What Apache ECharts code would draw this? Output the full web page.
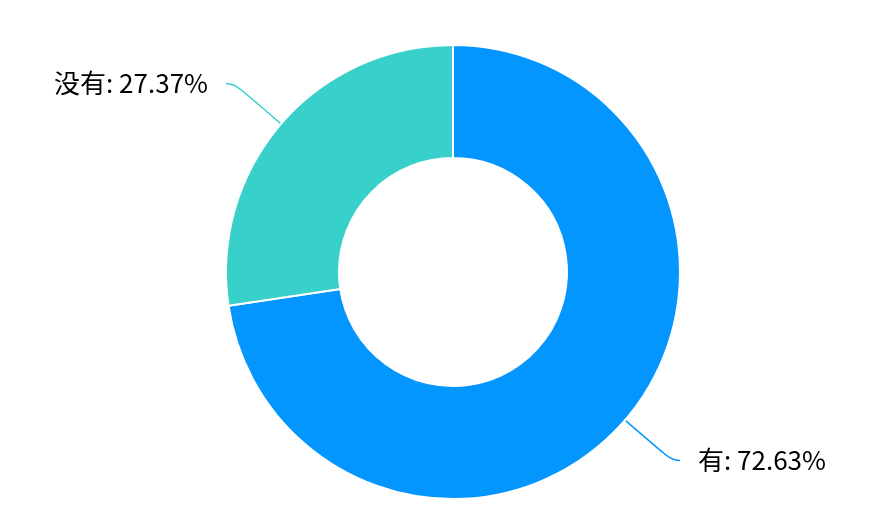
<!DOCTYPE html>
<html>
<head>
<meta charset="utf-8">
<script src="https://cdn.jsdelivr.net/npm/echarts@6/dist/echarts.min.js"></script>
<style>
  html, body { margin: 0; padding: 0; background: #fff; }
  #app { width: 875px; height: 528px; }
</style>
</head>
<body>
<div id="app"></div>
<script>
// 数据
var names = ['有', '没有'];
var values = [72.63, 27.37];
var colors = ['#0396FF', '#37D0CB'];

var chart = echarts.init(document.getElementById('app'));

// 组装饼图数据
var seriesData = names.map(function(n, i) {
    return {
        name: n,
        value: values[i],
        itemStyle: { color: colors[i] },
        labelLine: { lineStyle: { color: colors[i] } }
    };
});

chart.setOption({
    animation: false,
    series: [{
        type: 'pie',
        center: [453, 272],
        radius: [114, 227],
        startAngle: 90,
        data: seriesData,
        itemStyle: {
            borderColor: '#fff',
            borderWidth: 2
        },
        label: {
            show: true,
            formatter: '{b}: {d}%',
            color: '#000',
            fontSize: 26,
            fontFamily: '"Noto Sans CJK SC", sans-serif',
            padding: [18, 0, 0, 0],
            distanceToLabelLine: 18
        },
        labelLine: {
            show: true,
            smooth: 0.6,
            length: 62,
            length2: 8,
            lineStyle: { width: 1.5 }
        }
    }]
});
</script>
</body>
</html>
